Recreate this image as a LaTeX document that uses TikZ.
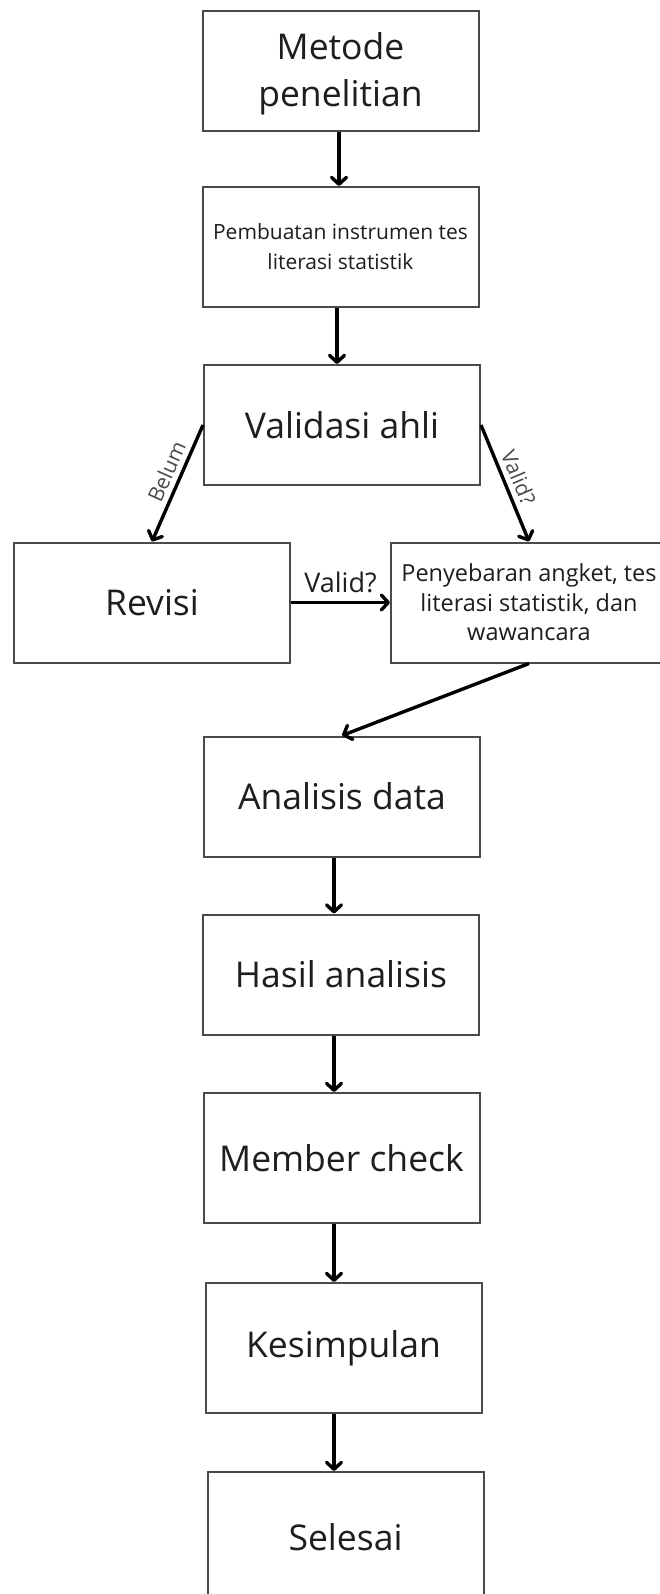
\documentclass[tikz,border=0pt]{standalone}
\usepackage{fontspec}
\setmainfont{Open Sans}
\usetikzlibrary{arrows.meta}
\definecolor{boxline}{HTML}{4A4A4A}
\definecolor{boxtext}{HTML}{1E1E1E}
\definecolor{lblgray}{HTML}{4A4A4A}
\tikzset{
 box/.style={draw=boxline, line width=2pt, minimum width=276pt, minimum height=120pt,
  inner sep=0pt, align=center, text=boxtext, font=\fontsize{35.5}{47}\selectfont},
 arr/.style={line width=3.4pt, -{Straight Barb[length=7pt,width=15pt,round]}},
 lbl/.style={text=lblgray, font=\fontsize{21}{24}\selectfont, inner sep=2pt},
}
\begin{document}
\begin{tikzpicture}[x=1pt,y=1pt]
\fill[white] (0,0) rectangle (659,-1594);
\useasboundingbox (0,0) rectangle (659,-1594);
\node[box] (met) at (340.5,-71) {\strut Metode\\penelitian};
\node[box, font=\fontsize{21}{30}\selectfont] (pem) at (340.5,-247) {Pembuatan instrumen tes\\literasi statistik};
\node[box] (val) at (342,-425) {Validasi ahli};
\node[box] (rev) at (152,-602.5) {Revisi};
\node[box, font=\fontsize{23.5}{29.5}\selectfont] (pen) at (529,-602.5) {Penyebaran angket, tes\\literasi statistik, dan\\wawancara};
\node[box] (ana) at (342,-796.5) {Analisis data};
\node[box] (has) at (341,-974.5) {Hasil analisis};
\node[box, minimum height=130pt] (mem) at (341.5,-1158) {Member check};
\node[box, minimum height=130pt] (kes) at (343.5,-1348) {Kesimpulan};
\node[box, minimum height=130pt] (sel) at (345.5,-1537) {Selesai};
% straight steps
\foreach \a/\b/\x in {met/pem/339, pem/val/337, ana/has/334, has/mem/334, mem/kes/334, kes/sel/334}
 \draw[arr] (\a.south -| \x,0) -- (\b.north -| \x,0);
% validation branch
\draw[arr] (val.west) -- node[lbl, pos=.45, rotate=66, above=3pt] (belum) {Belum} (rev.north);
\draw[arr] (val.east) -- node[lbl, pos=.5, rotate=-67, above=3pt] (validr) {Valid?} (pen.north);
\draw[arr] (rev.east) -- node[above=5pt, text=boxtext, font=\fontsize{27}{30}\selectfont] (validh) {Valid?} (pen.west);
\draw[arr] (pen.south) -- (ana.north);
\end{tikzpicture}
\end{document}
